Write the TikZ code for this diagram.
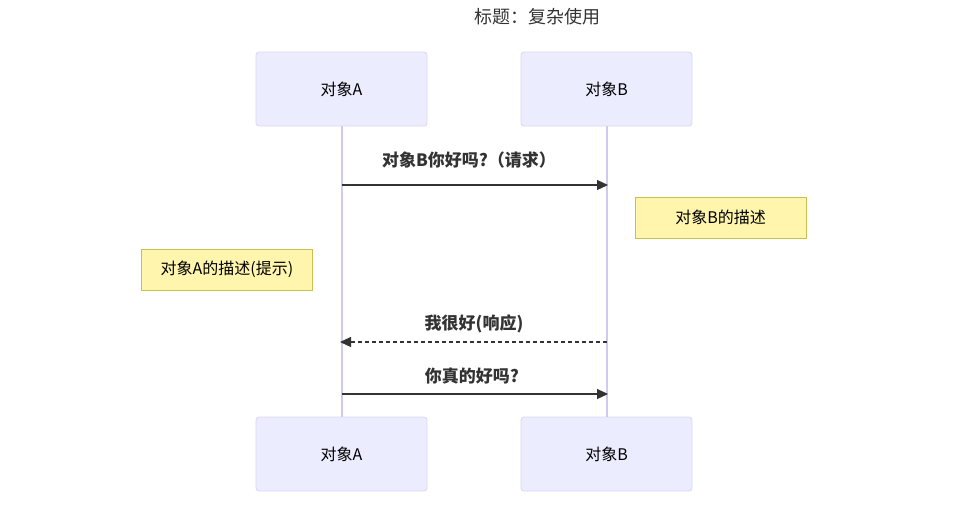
\documentclass[tikz,border=0pt]{standalone}
\usepackage{fontspec}
\setmainfont{Noto Sans CJK SC}
\usetikzlibrary{arrows.meta}
\definecolor{actfill}{HTML}{ECECFF}
\definecolor{actdraw}{HTML}{DAD6F2}
\definecolor{lifeln}{HTML}{CFCBEE}
\definecolor{notefill}{HTML}{FFF5AD}
\definecolor{notedraw}{HTML}{C8C050}
\definecolor{txt}{HTML}{333333}
\tikzset{
  actor/.style={draw=actdraw, fill=actfill, rounded corners=3pt, minimum width=171pt, minimum height=74pt, inner sep=0pt, font=\fontsize{16}{18}\selectfont, line width=0.8pt},
  notebox/.style={draw=notedraw, fill=notefill, minimum width=171pt, minimum height=41pt, inner sep=0pt, font=\fontsize{16}{18}\selectfont, line width=0.8pt},
  life/.style={draw=lifeln, line width=2pt},
  msg/.style={draw=txt, line width=1.2pt, -{Triangle[length=11pt,width=10pt]}},
  mlabel/.style={text=txt, font=\bfseries\fontsize{17}{19}\selectfont, inner sep=0pt}
}
\begin{document}
\begin{tikzpicture}[x=1pt,y=-1pt]
\useasboundingbox (0,0) rectangle (976,509);
\node[text=txt, font=\fontsize{18}{20}\selectfont] (title) at (537.5,17) {标题：复杂使用};
\node[actor] (a1) at (341.5,89) {对象A};
\node[actor] (b1) at (606.5,89) {对象B};
\node[actor] (a2) at (341.5,454) {对象A};
\node[actor] (b2) at (606.5,454) {对象B};
\draw[life] (a1.south) -- (a2.north);
\draw[life] (b1.south) -- (b2.north);
\coordinate (m1a) at (341.5,185);
\coordinate (m1b) at (608,185);
\coordinate (m2a) at (340,342);
\coordinate (m2b) at (606.5,342);
\coordinate (m3a) at (341.5,394);
\coordinate (m3b) at (608,394);
\draw[msg] (m1a) -- (m1b);
\draw[msg, dashed, dash pattern=on 4pt off 3pt] (m2b) -- (m2a);
\draw[msg] (m3a) -- (m3b);
\node[mlabel] (l1) at (469,160) {对象B你好吗?（请求）};
\node[mlabel] (l2) at (474,324) {我很好(响应)};
\node[mlabel] (l3) at (472,376) {你真的好吗?};
\node[notebox] (nb) at (720.5,217.5) {对象B的描述};
\node[notebox] (na) at (227,269.5) {对象A的描述(提示)};
\end{tikzpicture}
\end{document}
